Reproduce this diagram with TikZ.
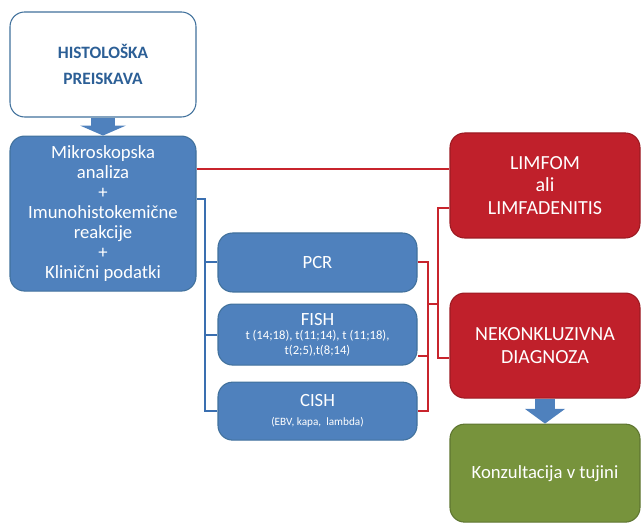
\documentclass[tikz,border=0pt]{standalone}
\usepackage{fontspec}
\setmainfont{Carlito}
\usepackage{xcolor}
\usepackage{tikz}
\usetikzlibrary{positioning, arrows.meta, calc}

\definecolor{boxblue}{HTML}{4F81BD}
\definecolor{edgeblue}{HTML}{41719C}
\definecolor{boxred}{HTML}{C0202B}
\definecolor{edgered}{HTML}{9C1A22}
\definecolor{boxgreen}{HTML}{77933C}
\definecolor{edgegreen}{HTML}{5E7530}
\definecolor{titleblue}{HTML}{2C5F96}
\definecolor{lineblue}{HTML}{3A6FB0}
\definecolor{linered}{HTML}{C8242C}

\newcommand{\detailfont}{\fontsize{9.5}{10}\selectfont}

\tikzstyle{startbox} = [rectangle, rounded corners=11pt, minimum width=139.5pt, minimum height=78.75pt, align=center, draw=edgeblue, line width=0.8pt, fill=white, text=titleblue, font=\bfseries\fontsize{13}{20}\selectfont]
\tikzstyle{bluebox} = [rectangle, rounded corners=11pt, minimum width=149.25pt, align=center, draw=edgeblue, line width=0.8pt, fill=boxblue, text=white, font=\fontsize{14}{15}\selectfont, inner sep=0pt]
\tikzstyle{redbox} = [rectangle, rounded corners=11pt, minimum width=142.5pt, minimum height=78.75pt, align=center, draw=edgered, line width=0.8pt, fill=boxred, text=white, font=\fontsize{15}{17}\selectfont]
\tikzstyle{greenbox} = [rectangle, rounded corners=11pt, minimum width=142.5pt, minimum height=73.5pt, align=center, draw=edgegreen, line width=0.8pt, fill=boxgreen, text=white, font=\fontsize{14}{15}\selectfont]
\tikzstyle{blueline} = [draw=lineblue, line width=1.5pt]
\tikzstyle{redline} = [draw=linered, line width=1.5pt]
\tikzstyle{blockarrow} = [draw=boxblue, line width=18pt, -{Triangle[length=7.5pt, width=34.5pt, line width=0pt]}]

\begin{document}
\begin{tikzpicture}[x=0.75pt, y=-0.75pt]
    \useasboundingbox (0,0) rectangle (643,523);

    % Histology and analysis
    \node[startbox] (hist) at (103,64.5) {HISTOLOŠKA\\PREISKAVA};
    \node[bluebox, minimum width=139.5pt, minimum height=116.25pt, below=13.5pt of hist] (mikro) {Mikroskopska\\analiza\\+\\Imunohistokemične\\reakcije\\+\\Klinični podatki};
    \draw[blockarrow] (hist.south) -- (mikro.north);

    % Additional tests
    \node[bluebox, minimum height=44.25pt] (pcr) at (317.5,262.5) {PCR};
    \node[bluebox, minimum height=45.75pt, below=8.25pt of pcr] (fish) {FISH\\[-4.5pt]{\detailfont t (14;18), t(11;14), t (11;18),}\\[-4pt]{\detailfont t(2;5),t(8;14)}};
    \node[bluebox, minimum height=43.5pt, below=12pt of fish] (cish) {CISH\\[-1pt]{\fontsize{8.4}{9}\selectfont (EBV, kapa,\ \ lambda)}};

    % Outcomes
    \node[redbox] (limfom) at (545,185.5) {LIMFOM\\ali\\LIMFADENITIS};
    \node[redbox, below=40.5pt of limfom] (nekonk) {NEKONKLUZIVNA\\DIAGNOZA};
    \node[greenbox, below=18.75pt of nekonk] (konz) {Konzultacija v tujini};
    \draw[blockarrow, line width=15pt, -{Triangle[length=11pt, width=30pt, line width=0pt]}] (nekonk.south) -- (konz.north);

    % Blue links
    \coordinate (bluebus) at ([xshift=-9pt]pcr.west);
    \coordinate (blueout) at ([yshift=10.9pt]mikro.east);
    \draw[blueline] (blueout) -| (bluebus |- cish.west) -- (cish.west);
    \draw[blueline] (pcr.west) -- (bluebus);
    \draw[blueline] (fish.west) -- (fish.west -| bluebus);

    % Red links
    \coordinate (redout) at ([yshift=33.4pt]mikro.east);
    \draw[redline] (redout) -- (redout -| limfom.west);
    \coordinate (redbus) at ([xshift=7.5pt]pcr.east);
    \coordinate (redbus2) at ([xshift=-8.25pt]limfom.west);
    \coordinate (fishout) at ([yshift=-16pt]fish.east);
    \coordinate (limin) at ([yshift=-17pt]limfom.west);
    \coordinate (nekin) at ([yshift=-9.4pt]nekonk.west);
    \draw[redline] (pcr.east) -| (redbus |- cish.east) -- (cish.east);
    \draw[redline] (fishout) -- (fishout -| redbus);
    \draw[redline] (redbus |- fish.north) -- (redbus2 |- fish.north);
    \draw[redline] (limin) -| (redbus2 |- nekin) -- (nekin);
\end{tikzpicture}
\end{document}
